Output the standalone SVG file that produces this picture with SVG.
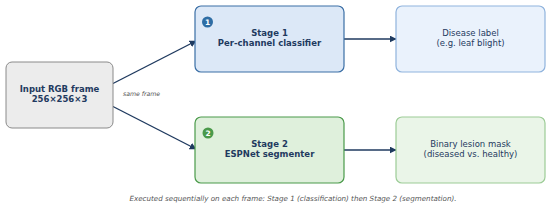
<svg xmlns="http://www.w3.org/2000/svg" width="550" height="207" viewBox="0 0 550 207">
<defs>
<marker id="ah" viewBox="0 0 10 10" refX="9" refY="5" markerWidth="7" markerHeight="7" orient="auto" markerUnits="userSpaceOnUse"><path d="M0,0 L10,5 L0,10 z" fill="#1f3a5f"/></marker>
<style>
.t{font-family:"DejaVu Sans",sans-serif;font-size:8.5px;fill:#1f3a5f;text-anchor:middle}
.b{font-weight:bold}
.c{stroke:#1f3a5f;stroke-width:1.4;fill:none;marker-end:url(#ah)}
.badge{font-family:"DejaVu Sans",sans-serif;font-size:7.5px;font-weight:bold;fill:#fff;text-anchor:middle}
</style>
</defs>
<rect width="550" height="207" fill="#fff"/>
<g id="connectors">
<line class="c" x1="112" y1="84" x2="196" y2="41"/>
<line class="c" x1="112" y1="106" x2="196" y2="149"/>
<line class="c" x1="344" y1="39" x2="396" y2="39"/>
<line class="c" x1="344" y1="150" x2="396" y2="150"/>
<text x="123" y="96" style="font-family:'DejaVu Sans',sans-serif;font-size:6.2px;font-style:italic;fill:#555">same frame</text>
</g>
<g id="input">
<rect x="6" y="62" width="107" height="66" rx="6" fill="#ececec" stroke="#8a8a8a" stroke-width="1"/>
<text class="t b" x="59.5" y="92">Input RGB frame</text>
<text class="t b" x="59.5" y="102">256×256×3</text>
</g>
<g id="stage1">
<rect x="195" y="6" width="149" height="66" rx="6" fill="#dce8f7" stroke="#3a6ea5" stroke-width="1.2"/>
<circle cx="207.5" cy="22" r="5.5" fill="#2e6da4"/>
<text class="badge" x="207.5" y="24.7">1</text>
<text class="t b" x="269.5" y="36">Stage 1</text>
<text class="t b" x="269.5" y="46">Per-channel classifier</text>
</g>
<g id="disease">
<rect x="396" y="6" width="149" height="66" rx="6" fill="#eaf2fc" stroke="#8fb3dd" stroke-width="1.2"/>
<text class="t" x="470.5" y="36">Disease label</text>
<text class="t" x="470.5" y="46">(e.g. leaf blight)</text>
</g>
<g id="stage2">
<rect x="195" y="117" width="149" height="66" rx="6" fill="#dff0dc" stroke="#4a9a4a" stroke-width="1.2"/>
<circle cx="208" cy="133" r="5.5" fill="#4a9a4a"/>
<text class="badge" x="208" y="135.7">2</text>
<text class="t b" x="269.5" y="147">Stage 2</text>
<text class="t b" x="269.5" y="157">ESPNet segmenter</text>
</g>
<g id="mask">
<rect x="396" y="117" width="149" height="66" rx="6" fill="#eaf5e8" stroke="#9ccc96" stroke-width="1.2"/>
<text class="t" x="470.5" y="147">Binary lesion mask</text>
<text class="t" x="470.5" y="157">(diseased vs. healthy)</text>
</g>
<text x="293" y="201" style="font-family:'DejaVu Sans',sans-serif;font-size:7.15px;font-style:italic;fill:#555;text-anchor:middle">Executed sequentially on each frame: Stage 1 (classification) then Stage 2 (segmentation).</text>
</svg>
